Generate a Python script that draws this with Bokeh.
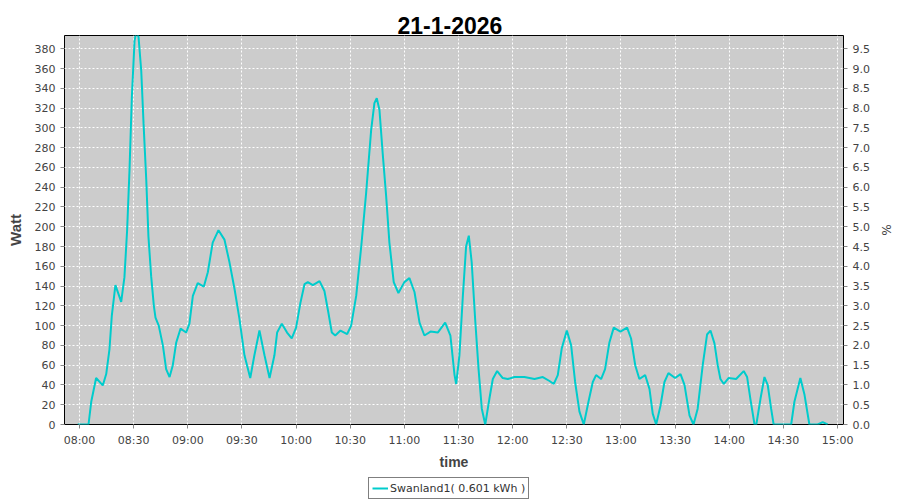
from bokeh.plotting import figure
from bokeh.layouts import column
from bokeh.models import (LinearAxis, Range1d, FixedTicker, Legend, LegendItem)
from bokeh.embed import file_html
from bokeh.resources import INLINE

# ---------------- data ----------------
title_text = "21-1-2026"
series_name = "Swanland1( 0.601 kWh )"

# minutes after 08:00
minutes = [-1, 5, 6.5, 9.2, 12.9, 14.8, 16.6, 17.9, 19.9, 23.1, 24.9, 26.4, 27.7, 29.0,
           30.5, 31.5, 32.7, 34.2, 35.5, 37.0, 38.2, 39.7, 41.2, 42.1, 43.9, 46.2, 48.0,
           49.9, 51.7, 53.6, 56.0, 59.1, 60.9, 62.8, 65.5, 68.9, 71.1, 73.8, 77.0, 80.3,
           83.1, 85.9, 88.6, 91.4, 94.6, 96.9, 99.7, 102.5, 105.3, 108.0, 109.5, 112.1,
           115.0, 117.6, 120.0, 122.4, 124.7, 126.5, 129.3, 133.0, 135.7, 137.9, 139.8,
           141.7, 144.6, 148.3, 150.5, 153.3, 156.1, 158.8, 161.6, 163.4, 164.7, 166.2,
           168.0, 169.9, 171.7, 174.1, 176.7, 180.0, 182.8, 185.6, 188.4, 191.1, 194.5,
           198.5, 202.6, 205.5, 207.8, 208.7, 210.5, 212.4, 214.2, 215.7, 217.3, 219.2,
           221.1, 222.9, 224.8, 227.1, 229.0, 231.4, 234.5, 237.3, 241.0, 246.5, 252.1,
           256.7, 260.4, 262.8, 265.0, 267.2, 270.0, 272.4, 274.6, 277.0, 279.4, 282.0,
           284.4, 286.2, 289.0, 291.2, 293.6, 296.0, 299.7, 303.4, 305.6, 307.9, 310.2,
           313.4, 315.8, 317.6, 319.5, 321.9, 324.1, 326.3, 330.0, 333.0, 335.2, 338.0,
           340.2, 342.5, 345.3, 347.7, 349.6, 351.8, 353.6, 355.1, 357.0, 359.6, 363.8,
           368.0, 369.9, 371.7, 374.0, 375.0, 377.3, 379.5, 381.3, 383.2, 384.6, 394.3,
           396.1, 399.4, 401.7, 404.4, 409.0, 411.8, 414.5]
watt = [0, 0, 23, 47, 39.5, 51, 76, 110, 141, 124, 149, 197, 257, 331,
        388, 398, 392, 358, 304, 247, 190, 150, 120, 108, 100, 80, 56,
        48, 60, 83, 97, 93, 102, 130, 143, 139.5, 154, 184, 196.5, 187,
        164, 137, 107, 70, 47, 70, 95, 70, 47, 70, 93, 102,
        93, 87, 98, 123, 142, 144, 141, 145, 135, 113, 93,
        90, 95, 91.5, 100, 130, 180, 234, 298, 325, 330, 318,
        274, 231, 184, 144, 133, 144, 148, 134, 103, 90, 94,
        93, 103, 90, 50, 41, 70, 130, 180, 191, 164, 107,
        56, 16, 0, 26, 46, 54, 47, 46, 48, 48, 46,
        48, 44, 41, 50, 77, 95, 80, 43, 13, 0, 23,
        43, 50, 46, 56, 83, 98, 94, 98, 87, 60, 46,
        50, 36, 11, 0, 19, 43, 52, 47, 51, 40, 9,
        0, 16, 60, 91, 95, 82, 60, 46, 41, 47, 46,
        54, 48, 26, 0, 0, 26, 48, 40, 16, 0, 0,
        23, 47, 30, 0, 0, 2.5, 0]

x_tick_minutes = [0, 30, 60, 90, 120, 150, 180, 210, 240, 270, 300, 330, 360, 390, 420]
x_tick_labels = ["08:00", "08:30", "09:00", "09:30", "10:00", "10:30", "11:00", "11:30",
                 "12:00", "12:30", "13:00", "13:30", "14:00", "14:30", "15:00"]
watt_ticks = [0, 20, 40, 60, 80, 100, 120, 140, 160, 180, 200, 220, 240, 260, 280, 300,
              320, 340, 360, 380]
pct_ticks = [0.0, 0.5, 1.0, 1.5, 2.0, 2.5, 3.0, 3.5, 4.0, 4.5, 5.0, 5.5, 6.0, 6.5, 7.0,
             7.5, 8.0, 8.5, 9.0, 9.5]
pct_labels = ["0.0", "0.5", "1.0", "1.5", "2.0", "2.5", "3.0", "3.5", "4.0", "4.5", "5.0",
              "5.5", "6.0", "6.5", "7.0", "7.5", "8.0", "8.5", "9.0", "9.5"]
watt_max = 393.4
watt_per_pct = 40.0

# ---------------- figure ----------------
TICK_FONT = "DejaVu Sans"
LABEL_FONT = "Liberation Sans"
TICK_COLOR = "#444444"
LINE_COLOR = "#00cccc"

p = figure(width=900, height=472, output_backend="svg", toolbar_location=None,
           x_range=Range1d(-8.31, 423.3), y_range=Range1d(0, watt_max),
           min_border_left=64, min_border_right=57, min_border_top=35, min_border_bottom=46,
           background_fill_color="#cccccc", border_fill_color="white",
           outline_line_color="black", outline_line_width=1)

bottom_axis = p.below[0]
left_axis = p.left[0]

# tick-less, line-less top axis used only as a spacer between frame and title
spacer_axis = LinearAxis(ticker=FixedTicker(ticks=[]), axis_line_color=None,
                         major_tick_line_color=None, minor_tick_line_color=None,
                         major_tick_out=11, major_tick_in=0, major_label_standoff=0)
p.add_layout(spacer_axis, "above")

p.title.text = title_text
p.title.align = "left"
p.title.text_font = LABEL_FONT
p.title.text_font_style = "bold"
p.title.text_font_size = "23px"
p.title.text_color = "black"
p.title.standoff = 4
p.title.offset = 333

r = p.line(minutes, watt, line_color=LINE_COLOR, line_width=2)

p.extra_y_ranges = {"pct": Range1d(0, watt_max / watt_per_pct)}
right_axis = LinearAxis(y_range_name="pct", axis_label="%")
p.add_layout(right_axis, "right")

for ax in [bottom_axis, left_axis, right_axis]:
    ax.axis_line_color = None
    ax.major_tick_line_color = "#888888"
    ax.major_tick_out = 4
    ax.major_tick_in = 0
    ax.minor_tick_line_color = None
    ax.major_label_text_font = TICK_FONT
    ax.major_label_text_font_size = "11px"
    ax.major_label_text_color = TICK_COLOR
    ax.major_label_standoff = 5
    ax.axis_label_text_color = TICK_COLOR

bottom_axis.ticker = FixedTicker(ticks=x_tick_minutes)
bottom_axis.major_label_overrides = {t: l for t, l in zip(x_tick_minutes, x_tick_labels)}
bottom_axis.axis_label = "time"
bottom_axis.axis_label_text_font = LABEL_FONT
bottom_axis.axis_label_text_font_style = "bold"
bottom_axis.axis_label_text_font_size = "14px"
bottom_axis.axis_label_standoff = 4

left_axis.ticker = FixedTicker(ticks=watt_ticks)
left_axis.axis_label = "Watt"
left_axis.axis_label_text_font = LABEL_FONT
left_axis.axis_label_text_font_style = "bold"
left_axis.axis_label_text_font_size = "15px"
left_axis.axis_label_standoff = 8

right_axis.ticker = FixedTicker(ticks=pct_ticks)
right_axis.major_label_overrides = {t: l for t, l in zip(pct_ticks, pct_labels)}
right_axis.axis_label_text_font = TICK_FONT
right_axis.axis_label_text_font_style = "normal"
right_axis.axis_label_text_font_size = "12px"
right_axis.axis_label_standoff = 6

p.xgrid.ticker = FixedTicker(ticks=x_tick_minutes)
p.ygrid.ticker = FixedTicker(ticks=watt_ticks)
for g in [p.xgrid, p.ygrid]:
    g.grid_line_color = "white"
    g.grid_line_dash = "2 2"
    g.grid_line_width = 1

# ---------------- legend strip below the chart ----------------
p2 = figure(width=900, height=28, output_backend="svg", toolbar_location=None,
            x_range=Range1d(1000, 1001), y_range=Range1d(1000, 1001), min_border=0,
            background_fill_color="white", border_fill_color="white",
            outline_line_color=None)
p2.axis.visible = False
p2.grid.visible = False
# legend swatch renderer: the same series, kept outside this strip's visible range
r2 = p2.line(minutes, watt, line_color=LINE_COLOR, line_width=2)

legend = Legend(items=[LegendItem(label=series_name, renderers=[r2])],
                location=(304, 1), orientation="horizontal",
                border_line_color="black", border_line_width=1,
                background_fill_color="white", background_fill_alpha=1,
                label_text_font=TICK_FONT, label_text_font_size="11px",
                label_text_color="#333333",
                glyph_width=16, glyph_height=14, label_standoff=2,
                padding=3, margin=0, spacing=0, label_height=14)
p2.add_layout(legend, "center")

layout = column(p, p2, spacing=0)
open("out.html", "w").write(file_html(layout, INLINE))
